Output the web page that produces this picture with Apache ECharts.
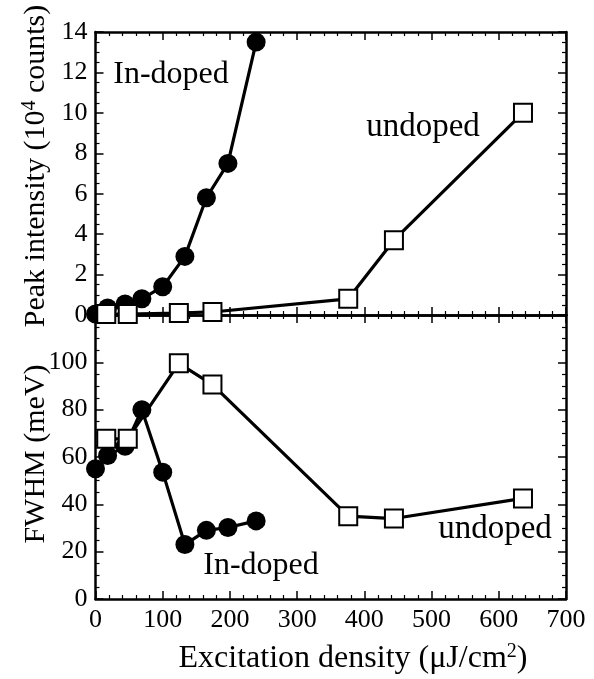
<!DOCTYPE html>
<html>
<head>
<meta charset="utf-8">
<script src="https://cdn.jsdelivr.net/npm/echarts@6/dist/echarts.min.js"></script>
<style>html,body{margin:0;padding:0;background:#fff;}#c{width:594px;height:679px;}</style>
</head>
<body>
<div id="c"></div>
<script>
// Excitation density (µJ/cm2)
const inDopedX = [0, 18, 44, 69, 100, 133, 165, 197, 239];
const inDopedPeak = [0.05, 0.35, 0.55, 0.8, 1.4, 2.9, 5.8, 7.5, 13.5];
const inDopedFwhm = [55, 60.6, 64.5, 80, 53.6, 23, 29, 30.2, 33];
const undopedX = [16, 48, 124, 174, 376, 444, 636];
const undopedPeak = [0.05, 0.05, 0.1, 0.15, 0.8, 3.7, 10.0];
const undopedFwhm = [67.7, 67.7, 99.6, 90.6, 35, 34, 42.5];
const xTicks = [0, 100, 200, 300, 400, 500, 600, 700];
const peakTicks = [0, 2, 4, 6, 8, 10, 12, 14];
const fwhmTicks = [0, 20, 40, 60, 80, 100];

const FONT = 'Liberation Serif';
const zip = (a, b) => a.map((v, i) => [v, b[i]]);

const chart = echarts.init(document.getElementById('c'), null, {renderer: 'canvas'});
const L = 95.5, R = 28;
const frameLine = {show: true, onZero: false, lineStyle: {color: '#000', width: 2.5}};
function xAx(grid, pos, labels) {
  return {
    type: 'value', gridIndex: grid, position: pos, min: 0, max: 700, interval: 100,
    axisLine: frameLine,
    axisTick: {show: true, inside: true, length: 8, lineStyle: {color: '#000', width: 1.5}},
    minorTick: {show: true, splitNumber: 5, length: 4, lineStyle: {color: '#000', width: 1.2}},
    splitLine: {show: false},
    axisLabel: {show: labels, margin: 8, color: '#000', fontFamily: FONT, fontSize: 26,
      formatter: v => xTicks.includes(v) ? String(v) : ''}
  };
}
function yAx(grid, pos, max, interval, labels, ticks) {
  return {
    type: 'value', gridIndex: grid, position: pos, min: 0, max: max, interval: interval,
    axisLine: frameLine,
    axisTick: {show: true, inside: true, length: 8, lineStyle: {color: '#000', width: 1.5}},
    minorTick: {show: true, splitNumber: 4, length: 4, lineStyle: {color: '#000', width: 1.2}},
    splitLine: {show: false},
    axisLabel: {show: labels, margin: 8, color: '#000', fontFamily: FONT, fontSize: 26,
      formatter: v => ticks.includes(v) ? String(v) : ''}
  };
}
const lineStyle = {color: '#000', width: 3.2};
const circleSeries = (xi, yi, data) => ({
  type: 'line', xAxisIndex: xi, yAxisIndex: yi, data: data,
  symbol: 'circle', symbolSize: 19, lineStyle: lineStyle,
  itemStyle: {color: '#000', borderColor: '#000', borderWidth: 0},
  animation: false, z: 2
});
const squareSeries = (xi, yi, data) => ({
  type: 'line', xAxisIndex: xi, yAxisIndex: yi, data: data,
  symbol: 'rect', symbolSize: 18, lineStyle: lineStyle,
  itemStyle: {color: '#fff', borderColor: '#000', borderWidth: 2},
  animation: false, z: 3
});
const txt = (x, y, s, size, rot) => ({
  type: 'text', x: x, y: y, rotation: rot || 0,
  style: {text: s, fontFamily: FONT, fontSize: size, fill: '#000', align: 'center', verticalAlign: 'middle'},
  z: 10
});

chart.setOption({
  animation: false,
  backgroundColor: '#fff',
  grid: [
    {left: L, right: R, top: 32, height: 283},
    {left: L, right: R, top: 315, height: 284}
  ],
  xAxis: [
    xAx(0, 'bottom', false), xAx(1, 'bottom', true),
    xAx(0, 'top', false), xAx(1, 'top', false)
  ],
  yAxis: [
    yAx(0, 'left', 14, 2, true, peakTicks), yAx(1, 'left', 120, 20, true, fwhmTicks),
    yAx(0, 'right', 14, 2, false, peakTicks), yAx(1, 'right', 120, 20, false, fwhmTicks)
  ],
  series: [
    circleSeries(0, 0, zip(inDopedX, inDopedPeak)),
    squareSeries(0, 0, zip(undopedX, undopedPeak)),
    circleSeries(1, 1, zip(inDopedX, inDopedFwhm)),
    squareSeries(1, 1, zip(undopedX, undopedFwhm))
  ],
  graphic: [
    txt(171, 75, 'In-doped', 32),
    txt(423, 127, 'undoped', 33),
    txt(261, 566, 'In-doped', 32),
    txt(495, 529, 'undoped', 33),
    {type: 'text', x: 36, y: 166, rotation: Math.PI / 2,
      style: {text: '{n|Peak intensity (10}{s|4}{n| counts)}', align: 'center', verticalAlign: 'middle',
        rich: {n: {fontFamily: FONT, fontSize: 30, fill: '#000', color: '#000'},
               s: {fontFamily: FONT, fontSize: 20, fill: '#000', color: '#000', padding: [0,0,13,0]}}}},
    txt(36, 454, 'FWHM (meV)', 30, Math.PI / 2),
    {type: 'text', x: 353, y: 659,
      style: {text: '{n|Excitation density (\u03bcJ/cm}{s|2}{n|)}', align: 'center', verticalAlign: 'middle',
        rich: {n: {fontFamily: FONT, fontSize: 32, fill: '#000', color: '#000'},
               s: {fontFamily: FONT, fontSize: 20, fill: '#000', color: '#000', padding: [0,0,15,0]}}}}
  ]
});
</script>
</body>
</html>
